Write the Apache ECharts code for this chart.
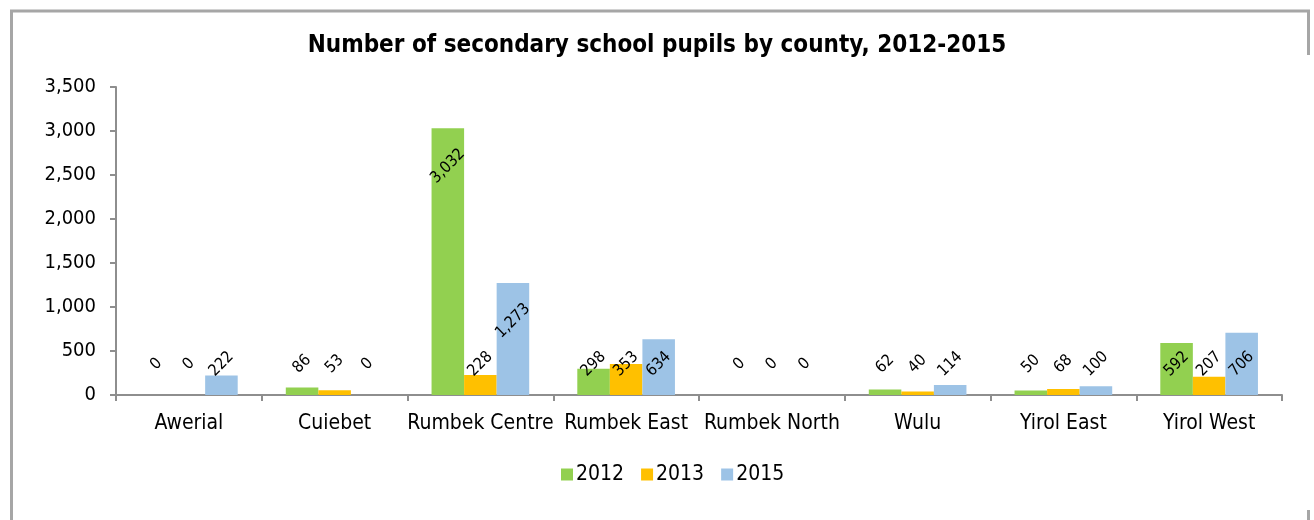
<!DOCTYPE html>
<html>
<head>
<meta charset="utf-8">
<script src="https://cdn.jsdelivr.net/npm/echarts@6/dist/echarts.min.js"></script>
<style>
  html, body { margin: 0; padding: 0; background: #fff; }
  #chart { width: 1314px; height: 520px; }
</style>
</head>
<body>
<div id="chart"></div>
<script>
// County names along the category axis
const counties = ['Awerial', 'Cuiebet', 'Rumbek Centre', 'Rumbek East', 'Rumbek North', 'Wulu', 'Yirol East', 'Yirol West'];

// Secondary school pupils per county and year
const pupils2012 = [0, 86, 3032, 298, 0, 62, 50, 592];
const pupils2013 = [0, 53, 228, 353, 0, 40, 68, 207];
const pupils2015 = [222, 0, 1273, 634, 0, 114, 100, 706];

// Series names shown in the legend
const years = ['2012', '2013', '2015'];

// Value axis range and step
const yMin = 0;
const yMax = 3500;
const yStep = 500;

const FONT = "'DejaVu Sans Condensed', 'DejaVu Sans', sans-serif";
const colors = ['#92D050', '#FFC000', '#9DC3E6'];
const fmt = v => Number(v).toLocaleString('en-US');

// Tall bars carry their label just inside the top; the rest sit at a fixed height above the axis
function labelFor(v) {
  const base = {
    show: true,
    rotate: 45,
    align: 'center',
    verticalAlign: 'middle',
    color: '#000',
    fontFamily: FONT,
    fontSize: 16,
    formatter: p => fmt(p.value)
  };
  return v >= 1000
    ? Object.assign(base, { position: 'insideTop', distance: 38 })
    : Object.assign(base, { position: 'insideBottom', distance: 31 });
}

function makeSeries(name, values, color) {
  return {
    name: name,
    type: 'bar',
    barGap: '0%',
    barCategoryGap: '33%',
    itemStyle: { color: color },
    data: values.map(v => ({ value: v, label: labelFor(v) }))
  };
}

const chart = echarts.init(document.getElementById('chart'), null, { renderer: 'canvas' });

chart.setOption({
  animation: false,
  backgroundColor: '#fff',
  color: colors,
  title: {
    text: 'Number of secondary school pupils by county, 2012-2015',
    left: 'center',
    top: 29,
    textStyle: { fontFamily: FONT, fontSize: 24, fontWeight: 'bold', color: '#000' }
  },
  legend: {
    data: years,
    left: 556,
    top: 459,
    icon: 'rect',
    itemWidth: 12,
    itemHeight: 12,
    itemGap: 17,
    textStyle: { fontFamily: FONT, fontSize: 21, color: '#000', padding: [0, 0, 0, -2] }
  },
  grid: { left: 116, right: 32, top: 87, bottom: 125, containLabel: false },
  xAxis: {
    type: 'category',
    data: counties,
    axisLine: { lineStyle: { color: '#8E8E8E', width: 2 } },
    axisTick: { show: true, length: 6, lineStyle: { color: '#8E8E8E', width: 2 } },
    axisLabel: { interval: 0, fontFamily: FONT, fontSize: 21, color: '#000', margin: 18 },
    splitLine: { show: false }
  },
  yAxis: {
    type: 'value',
    min: yMin,
    max: yMax,
    interval: yStep,
    axisLine: { show: true, lineStyle: { color: '#8E8E8E', width: 2 } },
    axisTick: { show: true, length: 6, lineStyle: { color: '#8E8E8E', width: 2 } },
    axisLabel: { fontFamily: FONT, fontSize: 20, color: '#000', margin: 20, formatter: v => fmt(v) },
    splitLine: { show: false }
  },
  graphic: [
    {
      type: 'polyline',
      silent: true,
      shape: { points: [[11.5, 520], [11.5, 11], [1308.5, 11], [1308.5, 55]] },
      style: { stroke: '#A6A6A6', lineWidth: 3, fill: null }
    },
    {
      type: 'line',
      silent: true,
      shape: { x1: 1308.5, y1: 510, x2: 1308.5, y2: 520 },
      style: { stroke: '#A6A6A6', lineWidth: 3 }
    }
  ],
  series: [
    makeSeries(years[0], pupils2012, colors[0]),
    makeSeries(years[1], pupils2013, colors[1]),
    makeSeries(years[2], pupils2015, colors[2])
  ]
});
</script>
</body>
</html>
